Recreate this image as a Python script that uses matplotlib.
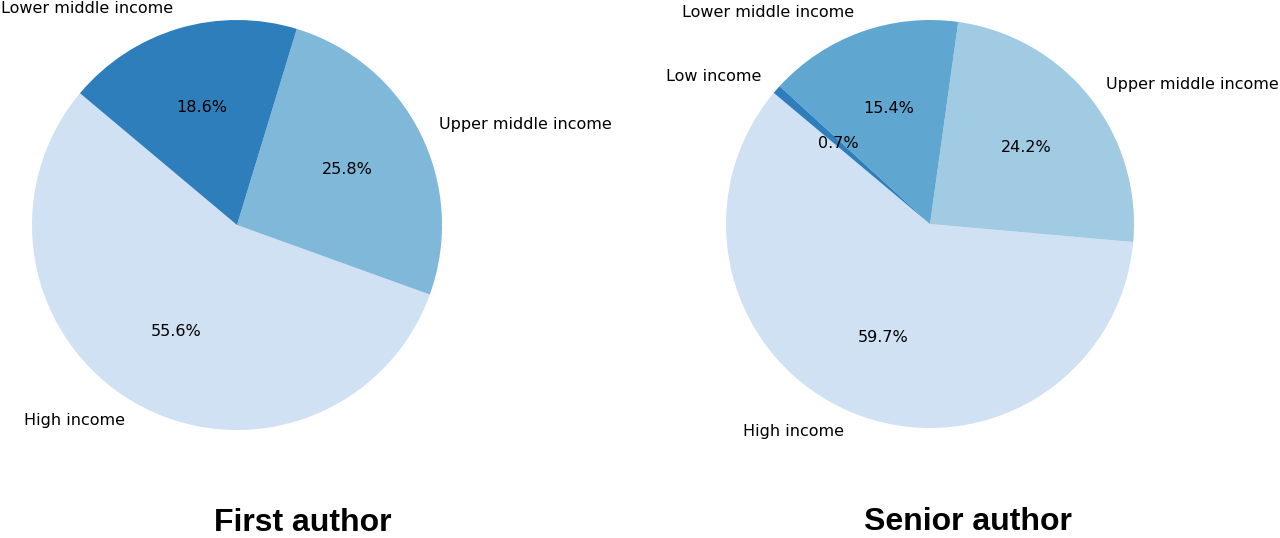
import matplotlib.pyplot as plt

# data
first_labels = ["High income", "Upper middle income", "Lower middle income"]
first_values = [55.6, 25.8, 18.6]
first_colors = ["#cfe1f2", "#80b8da", "#2f7ebc"]

senior_labels = ["High income", "Upper middle income", "Lower middle income", "Low income"]
senior_values = [59.7, 24.2, 15.4, 0.7]
senior_colors = ["#cfe1f2", "#a0cbe2", "#5fa6d1", "#2f7ebc"]

W, H = 1280, 538
fig = plt.figure(figsize=(W / 100, H / 100), dpi=100)


def pie_axes(cx, cy, r):
    # axes in pixel coords, pie radius r
    return fig.add_axes([(cx - r) / W, 1 - (cy + r) / H, 2 * r / W, 2 * r / H])


ax1 = pie_axes(237, 225, 205)
ax1.pie(first_values, labels=first_labels, colors=first_colors,
        autopct="%1.1f%%", startangle=140, counterclock=True,
        textprops={"fontsize": 11.5})
ax1.set_xlim(-1, 1)
ax1.set_ylim(-1, 1)

ax2 = pie_axes(930, 224, 204)
ax2.pie(senior_values, labels=senior_labels, colors=senior_colors,
        autopct="%1.1f%%", startangle=140, counterclock=True,
        textprops={"fontsize": 11.5})
ax2.set_xlim(-1, 1)
ax2.set_ylim(-1, 1)

title_font = dict(family="Liberation Sans", fontsize=23, fontweight="bold")
fig.text(303 / W, 1 - 531 / H, "First author", ha="center", va="baseline",
         **title_font)
fig.text(968 / W, 1 - 530 / H, "Senior author", ha="center", va="baseline",
         **title_font)

fig.savefig("out.png", dpi=100)
